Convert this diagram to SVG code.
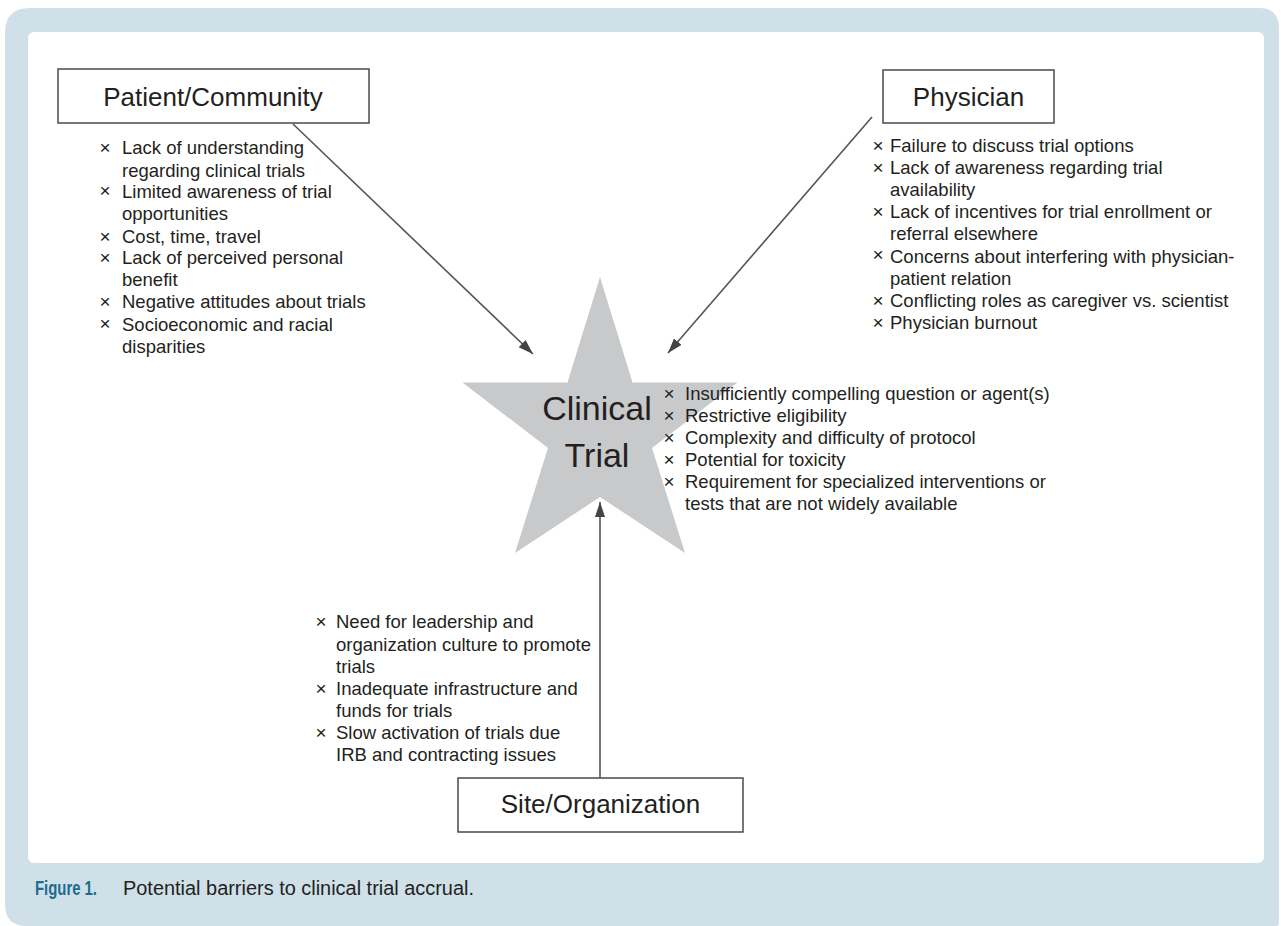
<svg xmlns="http://www.w3.org/2000/svg" width="1281" height="926" viewBox="0 0 1281 926">
  <defs>
    <style>
      .t { font-family: "Liberation Sans", Arial, Helvetica, sans-serif; fill: #231f20; }
      .item { font-size: 18.5px; }
      .x { font-size: 19px; text-anchor: middle; }
      .lbl { font-size: 26px; text-anchor: middle; }
      .box { fill: #ffffff; stroke: #4a4a4a; stroke-width: 1.5; }
      .conn { stroke: #555555; stroke-width: 1.6; fill: none; }
      .cap { font-family: "Liberation Sans", Arial, Helvetica, sans-serif; font-size: 20px; }
    </style>
    <marker id="ah" markerUnits="userSpaceOnUse" markerWidth="16" markerHeight="12" refX="15" refY="5" orient="auto">
      <path d="M0,0 L15,5 L0,10 Z" fill="#444444"/>
    </marker>
  </defs>

  <!-- background panels -->
  <path d="M30,8 H1259 Q1279,8 1279,28 V923 Q1279,926 1276,926 H27 Q5,926 5,904 V33 Q5,8 30,8 Z" fill="#cfe0e9"/>
  <rect x="28" y="32" width="1236" height="831" rx="6" fill="#ffffff"/>

  <!-- central node: star -->
  <g id="clinical-trial">
    <polygon points="600,277 632.5,382.5 737.5,382.5 652,448 685,553 600,497 515,553 548,448 462.5,382.5 567.5,382.5" fill="#c8c9cb"/>
    <text class="t" x="597" y="420" font-size="34" text-anchor="middle">Clinical</text>
    <text class="t" x="597" y="467" font-size="34" text-anchor="middle">Trial</text>
    <g class="t">
      <text class="x" x="669" y="400">×</text>
      <text class="item" x="685" y="400">Insufficiently compelling question or agent(s)</text>
      <text class="x" x="669" y="422">×</text>
      <text class="item" x="685" y="422">Restrictive eligibility</text>
      <text class="x" x="669" y="444">×</text>
      <text class="item" x="685" y="444">Complexity and difficulty of protocol</text>
      <text class="x" x="669" y="466">×</text>
      <text class="item" x="685" y="466">Potential for toxicity</text>
      <text class="x" x="669" y="488">×</text>
      <text class="item" x="685" y="488">Requirement for specialized interventions or</text>
      <text class="item" x="685" y="510">tests that are not widely available</text>
    </g>
  </g>

  <!-- connectors -->
  <g id="connectors">
    <line class="conn" x1="293" y1="124" x2="533" y2="354" marker-end="url(#ah)"/>
    <line class="conn" x1="872" y1="117" x2="668" y2="353" marker-end="url(#ah)"/>
    <line class="conn" x1="600" y1="778" x2="600" y2="502" marker-end="url(#ah)"/>
  </g>

  <!-- Patient/Community -->
  <g id="patient-community">
    <rect class="box" x="58" y="69" width="311" height="54"/>
    <text class="t lbl" x="213" y="106">Patient/Community</text>
    <g class="t">
      <text class="x" x="105" y="154">×</text>
      <text class="item" x="122" y="154">Lack of understanding</text>
      <text class="item" x="122" y="177">regarding clinical trials</text>
      <text class="x" x="105" y="197">×</text>
      <text class="item" x="122" y="198">Limited awareness of trial</text>
      <text class="item" x="122" y="220">opportunities</text>
      <text class="x" x="105" y="243">×</text>
      <text class="item" x="122" y="243">Cost, time, travel</text>
      <text class="x" x="105" y="264">×</text>
      <text class="item" x="122" y="264">Lack of perceived personal</text>
      <text class="item" x="122" y="286">benefit</text>
      <text class="x" x="105" y="308">×</text>
      <text class="item" x="122" y="308">Negative attitudes about trials</text>
      <text class="x" x="105" y="330">×</text>
      <text class="item" x="122" y="331">Socioeconomic and racial</text>
      <text class="item" x="122" y="353">disparities</text>
    </g>
  </g>

  <!-- Physician -->
  <g id="physician">
    <rect class="box" x="883" y="70" width="171" height="53"/>
    <text class="t lbl" x="968.5" y="106">Physician</text>
    <g class="t">
      <text class="x" x="878" y="152">×</text>
      <text class="item" x="890" y="152">Failure to discuss trial options</text>
      <text class="x" x="878" y="174">×</text>
      <text class="item" x="890" y="174">Lack of awareness regarding trial</text>
      <text class="item" x="890" y="196">availability</text>
      <text class="x" x="878" y="218">×</text>
      <text class="item" x="890" y="218">Lack of incentives for trial enrollment or</text>
      <text class="item" x="890" y="240">referral elsewhere</text>
      <text class="x" x="878" y="261">×</text>
      <text class="item" x="890" y="263">Concerns about interfering with physician-</text>
      <text class="item" x="890" y="285">patient relation</text>
      <text class="x" x="878" y="307">×</text>
      <text class="item" x="890" y="307">Conflicting roles as caregiver vs. scientist</text>
      <text class="x" x="878" y="329">×</text>
      <text class="item" x="890" y="329">Physician burnout</text>
    </g>
  </g>

  <!-- Site/Organization -->
  <g id="site-organization">
    <rect class="box" x="458" y="778" width="285" height="54"/>
    <text class="t lbl" x="600.5" y="813">Site/Organization</text>
    <g class="t">
      <text class="x" x="321" y="628">×</text>
      <text class="item" x="336" y="628">Need for leadership and</text>
      <text class="item" x="336" y="651">organization culture to promote</text>
      <text class="item" x="336" y="673">trials</text>
      <text class="x" x="321" y="695">×</text>
      <text class="item" x="336" y="695">Inadequate infrastructure and</text>
      <text class="item" x="336" y="717">funds for trials</text>
      <text class="x" x="321" y="739">×</text>
      <text class="item" x="336" y="739">Slow activation of trials due</text>
      <text class="item" x="336" y="761">IRB and contracting issues</text>
    </g>
  </g>

  <!-- caption -->
  <text class="cap" x="35" y="895" font-weight="bold" fill="#1b6d8c" textLength="62" lengthAdjust="spacingAndGlyphs">Figure 1.</text>
  <text class="cap" x="123" y="895" fill="#231f20" textLength="351" lengthAdjust="spacingAndGlyphs">Potential barriers to clinical trial accrual.</text>
</svg>
